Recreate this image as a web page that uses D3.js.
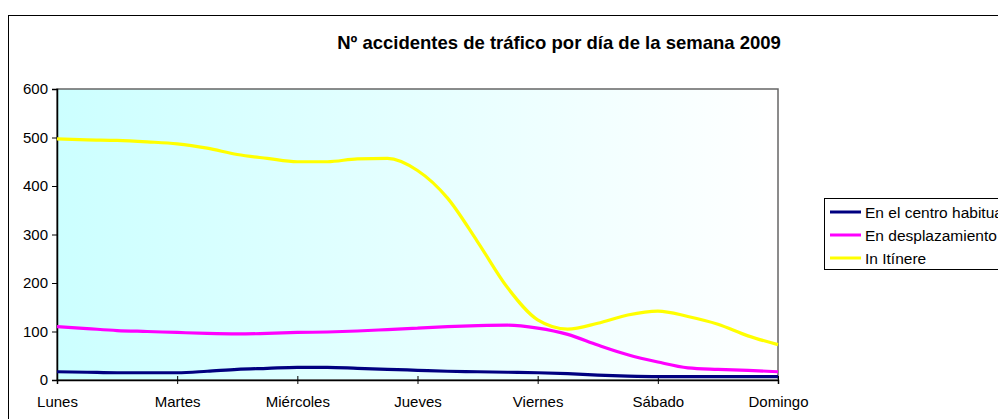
<!DOCTYPE html>
<html>
<head>
<meta charset="utf-8">
<script src="https://cdn.jsdelivr.net/npm/d3@7"></script>
<style>
  body { margin: 0; background: #fff; }
  svg { display: block; font-family: "Liberation Sans", Arial, sans-serif; }
</style>
</head>
<body>
<svg id="chart" width="998" height="419"></svg>
<script>
// categories on the x axis
const days = ['Lunes', 'Martes', 'Miércoles', 'Jueves', 'Viernes', 'Sábado', 'Domingo'];
// sample positions (in days, quarter steps) where values were read
const dayPos = [0, 0.25, 0.5, 0.75, 1, 1.25, 1.5, 1.75, 2, 2.25, 2.5, 2.75, 3,
                3.25, 3.5, 3.75, 4, 4.25, 4.5, 4.75, 5, 5.25, 5.5, 5.75, 6];

const centroHabitual = [17, 16, 15, 15, 15, 18, 22, 24, 26, 26, 24, 22, 20,
                        18, 17, 16, 15, 13, 10, 8, 7, 7, 7, 7, 7];
const desplazamiento = [110, 106, 102, 100, 98, 96, 95, 96, 98, 99, 101, 104, 107,
                        110, 112, 113, 107, 94, 72, 52, 37, 25, 22, 20, 17];
const inItinere = [497, 495, 494, 491, 487, 478, 465, 457, 450, 450, 456, 457, 432,
                   375, 285, 190, 124, 105, 117, 134, 142, 131, 115, 91, 73];

const seriesNames = ['En el centro habitual', 'En desplazamiento', 'In Itínere'];
const seriesColors = ['#000080', '#ff00ff', '#ffff00'];
const yTicks = [0, 100, 200, 300, 400, 500, 600];

const svg = d3.select('#chart');
const margin = {top: 89, left: 57};
const innerWidth = 778 - margin.left;
const innerHeight = 380 - margin.top;

// outer frame (runs past the window on the right and bottom)
svg.append('rect')
    .attr('x', 8.5).attr('y', 15.5)
    .attr('width', 1100).attr('height', 500)
    .attr('fill', 'none').attr('stroke', '#000').attr('stroke-width', 1);

const defs = svg.append('defs');
const grad = defs.append('linearGradient').attr('id', 'bg');
grad.append('stop').attr('offset', '0%').attr('stop-color', '#ccffff');
grad.append('stop').attr('offset', '100%').attr('stop-color', '#ffffff');

const x = d3.scaleLinear().domain([0, days.length - 1]).range([0, innerWidth]);
const y = d3.scaleLinear().domain([0, 600]).range([innerHeight, 0]);

const g = svg.append('g').attr('transform', `translate(${margin.left}, ${margin.top})`);

g.append('rect')
    .attr('width', innerWidth).attr('height', innerHeight)
    .attr('fill', 'url(#bg)')
    .attr('stroke', '#666').attr('stroke-width', 1.5);

const yAxis = d3.axisLeft(y).tickValues(yTicks).tickSize(5).tickPadding(4);
const yAxisGroup = g.append('g').call(yAxis);
yAxisGroup.select('.domain').attr('stroke', '#000').attr('stroke-width', 1.5);
yAxisGroup.selectAll('text').attr('font-size', 15).attr('fill', '#000');

const xAxis = d3.axisBottom(x).tickValues(d3.range(days.length))
    .tickFormat(i => days[i]).tickSize(4).tickPadding(12);
const xAxisGroup = g.append('g').attr('transform', `translate(0, ${innerHeight})`).call(xAxis);
xAxisGroup.select('.domain').attr('stroke', '#000').attr('stroke-width', 1.5);
xAxisGroup.selectAll('.tick line').attr('y1', -4);
xAxisGroup.selectAll('text').attr('font-size', 15).attr('fill', '#000');

const allSeries = [centroHabitual, desplazamiento, inItinere];
const line = d3.line()
    .x((d, i) => x(dayPos[i]))
    .y(d => y(d))
    .curve(d3.curveMonotoneX);

// yellow first so the darker lines sit on top like the original
[2, 1, 0].forEach(k => {
    g.append('path')
        .datum(allSeries[k])
        .attr('d', line)
        .attr('fill', 'none')
        .attr('stroke', seriesColors[k])
        .attr('stroke-width', 3.2)
        .attr('stroke-linejoin', 'round');
});

svg.append('text')
    .attr('x', 559).attr('y', 49)
    .attr('text-anchor', 'middle')
    .attr('font-size', 18.5).attr('font-weight', 'bold')
    .text('Nº accidentes de tráfico por día de la semana 2009');

// legend
const legend = svg.append('g').attr('transform', 'translate(824, 198)');
legend.append('rect')
    .attr('x', 0.5).attr('y', 0.5).attr('width', 300).attr('height', 71)
    .attr('fill', '#fff').attr('stroke', '#000');
seriesNames.forEach((name, i) => {
    const row = legend.append('g').attr('transform', `translate(0, ${14 + i * 23})`);
    row.append('line').attr('x1', 6).attr('x2', 37)
        .attr('stroke', seriesColors[i]).attr('stroke-width', 3);
    row.append('text').attr('x', 41).attr('y', 5.5)
        .attr('font-size', 15.5).text(name);
});
</script>
</body>
</html>
